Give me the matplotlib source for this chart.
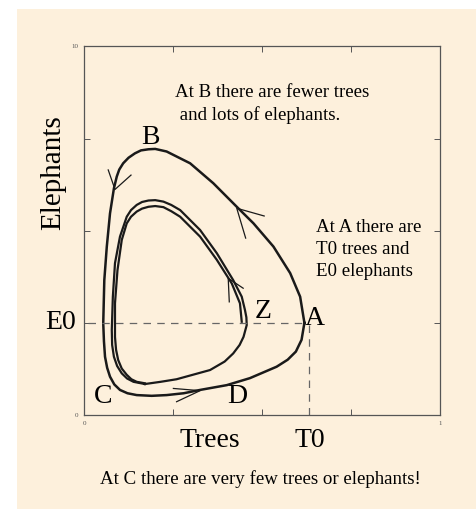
import numpy as np
import matplotlib.pyplot as plt
from matplotlib.patches import Rectangle

# outer loop (trees, elephants)
outer_trees = [0.619, 0.607, 0.579, 0.532, 0.476, 0.429, 0.363, 0.298, 0.232, 0.200, 0.181,
               0.160, 0.143, 0.125, 0.110, 0.099, 0.092, 0.084, 0.073, 0.064, 0.057, 0.054,
               0.056, 0.059, 0.065, 0.073, 0.085, 0.101, 0.122, 0.148, 0.190, 0.232, 0.280,
               0.326, 0.401, 0.466, 0.541, 0.572, 0.595, 0.611, 0.619]
outer_eleph = [2.50, 3.21, 3.85, 4.57, 5.20, 5.65, 6.29, 6.83, 7.15, 7.22, 7.21,
               7.18, 7.10, 6.98, 6.83, 6.66, 6.47, 6.15, 5.47, 4.57, 3.66, 2.49,
               2.00, 1.58, 1.28, 1.04, 0.83, 0.68, 0.59, 0.54, 0.52, 0.54, 0.59,
               0.68, 0.81, 1.00, 1.31, 1.50, 1.72, 2.04, 2.50]

# second loop
mid_trees = [0.171, 0.215, 0.260, 0.354, 0.395, 0.419, 0.437, 0.448, 0.457, 0.456, 0.452,
             0.443, 0.419, 0.373, 0.326, 0.270, 0.245, 0.223, 0.200, 0.181, 0.163, 0.148,
             0.132, 0.120, 0.101, 0.087, 0.081, 0.078, 0.079, 0.084, 0.093, 0.106, 0.121,
             0.139, 0.171]
mid_eleph = [0.84, 0.90, 0.97, 1.22, 1.45, 1.67, 1.90, 2.12, 2.44, 2.65, 2.85,
             3.21, 3.66, 4.39, 5.02, 5.56, 5.70, 5.79, 5.83, 5.82, 5.78, 5.70,
             5.56, 5.38, 4.84, 4.12, 3.21, 2.31, 1.90, 1.58, 1.33, 1.13, 0.99,
             0.90, 0.84]

# innermost piece, ends near Z
inner_trees = [0.443, 0.438, 0.415, 0.373, 0.326, 0.270, 0.245, 0.223, 0.200, 0.181, 0.163,
               0.148, 0.132, 0.120, 0.106, 0.094, 0.087, 0.087, 0.090, 0.096, 0.106, 0.120,
               0.133, 0.148, 0.171]
inner_eleph = [2.53, 3.03, 3.57, 4.21, 4.84, 5.38, 5.53, 5.64, 5.67, 5.65, 5.60,
               5.52, 5.38, 5.20, 4.75, 3.93, 3.03, 2.12, 1.77, 1.49, 1.26, 1.09,
               0.97, 0.90, 0.86]

# arrow heads: tip, wing1, wing2
arrows = [
    [(0.087, 6.12), (0.068, 6.65), (0.132, 6.51)],
    [(0.429, 5.61), (0.506, 5.40), (0.454, 4.80)],
    [(0.405, 3.71), (0.447, 3.44), (0.408, 3.07)],
    [(0.326, 0.66), (0.251, 0.72), (0.260, 0.36)],
]

T0 = 0.632
E0 = 2.5
A_trees = 0.619

cream = '#fdf0dc'
ink = '#1a1a1a'

fig = plt.figure(figsize=(4.76, 5.09), dpi=100)
fig.patch.set_facecolor('white')
fig.patches.append(Rectangle((17 / 476, 0), 459 / 476, 500 / 509,
                             transform=fig.transFigure, facecolor=cream,
                             edgecolor='none', zorder=-10))

ax = fig.add_axes([0.1765, 0.1847, 0.748, 0.724])
ax.set_facecolor(cream)
ax.set_xlim(0, 1)
ax.set_ylim(0, 10)

ax.plot(outer_trees, outer_eleph, color=ink, lw=1.8, solid_joinstyle='round')
ax.plot(mid_trees, mid_eleph, color=ink, lw=1.6, solid_joinstyle='round')
ax.plot(inner_trees, inner_eleph, color=ink, lw=1.6, solid_joinstyle='round')

for tip, w1, w2 in arrows:
    ax.plot([w1[0], tip[0], w2[0]], [w1[1], tip[1], w2[1]], color=ink, lw=0.9)

# dashed guides
ax.plot([0.01, A_trees], [E0, E0], color='#666666', lw=0.9, ls=(0, (6, 5)))
ax.plot([T0, T0], [0, E0], color='#666666', lw=0.9, ls=(0, (6, 5)))

ax.set_xticks([0, 0.25, 0.5, 0.75, 1])
ax.set_xticklabels(['0', '', '', '', '1'])
ax.set_yticks([0, 2.5, 5, 7.5, 10])
ax.set_yticklabels(['0', '', '', '', '10'])
ax.tick_params(direction='in', length=4, width=0.7, colors='#555555',
               labelsize=5, top=True, right=True, pad=4)
for lab in ax.get_xticklabels() + ax.get_yticklabels():
    lab.set_family('Liberation Serif')
for s in ax.spines.values():
    s.set_color('#555555')
    s.set_linewidth(0.9)

serif = 'Liberation Serif'
big = 20
small = 13.6
ax.text(0.188, 7.52, 'B', fontsize=big, family=serif, ha='center', va='center')
ax.text(0.649, 2.63, 'A', fontsize=big, family=serif, ha='center', va='center')
ax.text(0.503, 2.80, 'Z', fontsize=big, family=serif, ha='center', va='center')
ax.text(0.053, 0.49, 'C', fontsize=big, family=serif, ha='center', va='center')
ax.text(0.430, 0.49, 'D', fontsize=big, family=serif, ha='center', va='center')
ax.text(-0.067, 2.50, 'E0', fontsize=big, family=serif, ha='center', va='center', clip_on=False)
ax.text(0.635, -0.68, 'T0', fontsize=big, family=serif, ha='center', va='center', clip_on=False)
ax.text(0.354, -0.68, 'Trees', fontsize=big, family=serif, ha='center', va='center', clip_on=False)
ax.text(-0.087, 6.57, 'Elephants', fontsize=21, family=serif, ha='center', va='center',
        rotation=90, clip_on=False)

ax.text(0.256, 8.45, 'At B there are fewer trees\n and lots of elephants.',
        fontsize=small, family=serif, ha='left', va='center', linespacing=1.38)
ax.text(0.652, 4.48, 'At A there are\nT0 trees and\nE0 elephants',
        fontsize=small, family=serif, ha='left', va='center', linespacing=1.38)
ax.text(0.494, -1.74, 'At C there are very few trees or elephants!',
        fontsize=small, family=serif, ha='center', va='center', clip_on=False)

fig.savefig('out.png', dpi=100)
